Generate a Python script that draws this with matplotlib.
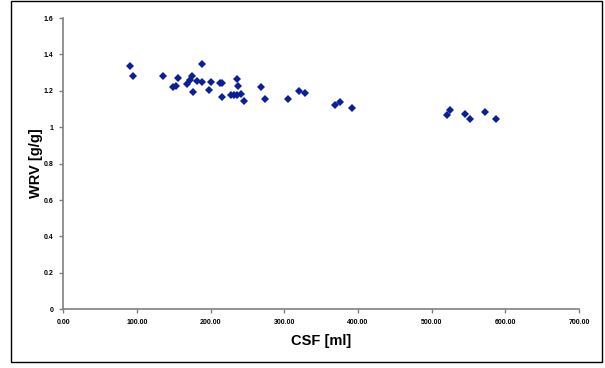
import numpy as np
import matplotlib
matplotlib.use("Agg")
import matplotlib.pyplot as plt
from matplotlib.patches import Rectangle
from matplotlib.ticker import FuncFormatter

plt.rcParams['font.family'] = ['Liberation Sans', 'DejaVu Sans']

# CSF [ml] vs WRV [g/g]
csf = [91.2, 95.2, 135.7, 155.2, 149.5, 152.9, 168.2, 171.9, 175.3, 176.4,
       182.1, 188.2, 188.2, 197.7, 200.0, 213.0, 215.3, 215.7, 227.5, 232.3,
       236.3, 240.7, 235.7, 236.6, 245.8, 267.9, 273.6, 304.8, 319.4, 327.5,
       369.0, 375.0, 392.1, 521.0, 525.0, 545.9, 552.7, 572.5, 588.0]
wrv = [1.334, 1.282, 1.282, 1.271, 1.223, 1.229, 1.236, 1.260, 1.282, 1.196,
       1.255, 1.350, 1.249, 1.202, 1.249, 1.245, 1.241, 1.168, 1.178, 1.178,
       1.178, 1.182, 1.266, 1.229, 1.145, 1.219, 1.154, 1.156, 1.198, 1.190,
       1.124, 1.139, 1.108, 1.069, 1.097, 1.075, 1.046, 1.086, 1.046]

x_ticks = [0, 100, 200, 300, 400, 500, 600, 700]
y_ticks = [0, 0.2, 0.4, 0.6, 0.8, 1.0, 1.2, 1.4, 1.6]

fig = plt.figure(figsize=(6.05, 3.68), dpi=100)
ax = fig.add_axes([0.1046, 0.1598, 0.8524, 0.7912])

ax.plot(csf, wrv, linestyle='none', marker='D', markersize=4.4,
        color='#0B1F99', markeredgewidth=0)

ax.set_xlim(0, 700)
ax.set_ylim(0, 1.6)
ax.set_xticks(x_ticks)
ax.set_yticks(y_ticks)
ax.xaxis.set_major_formatter(FuncFormatter(lambda v, p: '%.2f' % v))
ax.yaxis.set_major_formatter(FuncFormatter(lambda v, p: '%g' % round(v, 1)))

for s in ['top', 'right']:
    ax.spines[s].set_visible(False)
for s in ['left', 'bottom']:
    ax.spines[s].set_color('#808080')
    ax.spines[s].set_linewidth(1.2)

ax.tick_params(direction='out', length=3, width=1, color='#808080',
               labelsize=5, pad=4)
for lab in ax.get_xticklabels() + ax.get_yticklabels():
    lab.set_fontweight('bold')

ax.set_xlabel('CSF [ml]', fontsize=10.5, fontweight='bold', labelpad=6)
ax.set_ylabel('WRV [g/g]', fontsize=10.5, fontweight='bold', labelpad=0.5)

# outer frame
fig.patches.append(Rectangle((11 / 605, 1 - 362 / 368), 591 / 605, 361 / 368,
                             transform=fig.transFigure, fill=False,
                             edgecolor='black', linewidth=1))

fig.savefig('out.png', dpi=100)
